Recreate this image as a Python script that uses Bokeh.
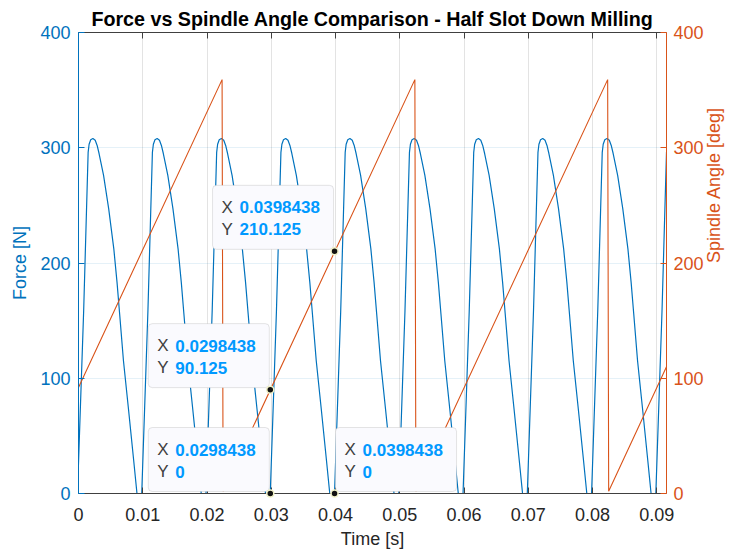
import math
import numpy as np
from bokeh.plotting import figure
from bokeh.models import Range1d, LinearAxis, FixedTicker, CustomJSTickFormatter, BoxAnnotation
from bokeh.core.properties import value
from bokeh.embed import file_html
from bokeh.resources import INLINE

# ---------------- data ----------------
# start time of each tooth pass [s]
tooth_starts = [0.00, 0.01, 0.02, 0.03, 0.04, 0.05, 0.06, 0.07, 0.08, 0.09]
# force profile of one tooth pass: time after the tooth-pass start [s] and force [N]
profile_phase = [-0.00016, 0.0008, 0.0015, 0.00165, 0.0019, 0.00224, 0.0026, 0.0029,
                 0.0032, 0.0039, 0.0047, 0.0055, 0.0060, 0.0064, 0.0070, 0.0078, 0.0086, 0.0091]
profile_force = [0, 158, 296, 303, 307, 308, 306.5, 302,
                 295, 276, 247, 212, 183, 156, 115, 72, 28, 0]

# spindle angle sawtooth vertices
angle_time = [0.0, 0.0223438, 0.0225, 0.0523438, 0.0525, 0.0823438, 0.0825, 0.0915]
angle_deg = [92.0, 359.125, 2.0, 359.125, 2.0, 359.125, 2.0, 110.0]

x_ticks = [0, 0.01, 0.02, 0.03, 0.04, 0.05, 0.06, 0.07, 0.08, 0.09]
y_ticks = [0, 100, 200, 300, 400]

# data tips
tip_x = [0.0398438, 0.0298438, 0.0298438, 0.0398438]
tip_y = [210.125, 90.125, 0.0, 0.0]
tip_x_text = ["0.0398438", "0.0298438", "0.0298438", "0.0398438"]
tip_y_text = ["210.125", "90.125", "0", "0"]
tip_side = ["left", "left", "left", "right"]

TITLE = "Force vs Spindle Angle Comparison - Half Slot Down Milling"
RIGHT_LABEL = "Spindle Angle [deg]"

# ---------------- build the series table ----------------
force_t, force_v = [], []
for t0 in tooth_starts:
    for ph, f in zip(profile_phase, profile_force):
        force_t.append(t0 + ph)
        force_v.append(f)

BLUE = "#0072BD"
ORANGE = "#D95319"
DARK = "#262626"
FONT = "Liberation Sans"

X0, X1 = 0.0, 0.0915
Y0, Y1 = 0.0, 400.0
BL, BR, BT, BB = 78, 70, 32, 61
W, H = 736, 554
FW, FH = W - BL - BR, H - BT - BB

p = figure(width=W, height=H, x_range=Range1d(X0, X1), y_range=Range1d(Y0, Y1),
           output_backend="svg", toolbar_location=None,
           min_border_left=BL, min_border_right=BR, min_border_top=BT, min_border_bottom=BB)
p.extra_y_ranges = {"angle": Range1d(0, 400)}
p.background_fill_color = "white"
p.border_fill_color = "white"
p.outline_line_color = None

# title
p.title.text = TITLE
p.title.text_font = FONT
p.title.text_font_size = "19.7px"
p.title.text_font_style = "bold"
p.title.text_color = "#000000"
p.title.align = "center"
p.title.standoff = 6

# grids
p.xgrid.ticker = FixedTicker(ticks=x_ticks)
p.xgrid.grid_line_color = DARK
p.xgrid.grid_line_alpha = 0.13
p.ygrid.ticker = FixedTicker(ticks=y_ticks)
p.ygrid.grid_line_color = BLUE
p.ygrid.grid_line_alpha = 0.1

def style_axis(ax, color, label_color, tick_color):
    ax.axis_line_color = color
    ax.axis_line_width = 1
    ax.major_tick_line_color = tick_color
    ax.major_tick_in = 6
    ax.major_tick_out = 0
    ax.minor_tick_line_color = None
    ax.major_label_text_font = FONT
    ax.major_label_text_font_size = "18px"
    ax.major_label_text_color = label_color
    ax.axis_label_text_font = FONT
    ax.axis_label_text_font_size = "18px"
    ax.axis_label_text_font_style = "normal"
    ax.axis_label_text_color = label_color

# bottom axis
xa = p.xaxis[0]
xa.ticker = FixedTicker(ticks=x_ticks)
xa.formatter = CustomJSTickFormatter(code="return tick == 0 ? '0' : tick.toFixed(2);")
xa.axis_label = "Time [s]"
style_axis(xa, "#404040", DARK, "#404040")
xa.major_label_standoff = 14
xa.axis_label_standoff = 5

# left axis
ya = p.yaxis[0]
ya.ticker = FixedTicker(ticks=y_ticks)
ya.axis_label = "Force [N]"
style_axis(ya, BLUE, BLUE, BLUE)
ya.major_label_standoff = 8
ya.axis_label_standoff = 7

# right axis
ra = LinearAxis(y_range_name="angle", axis_label=RIGHT_LABEL)
ra.ticker = FixedTicker(ticks=y_ticks)
style_axis(ra, ORANGE, ORANGE, ORANGE)
ra.major_label_standoff = 7
ra.axis_label_standoff = 7
try:
    ra.axis_label_orientation = math.pi / 2
except Exception:
    pass
p.add_layout(ra, "right")

# top border with inward ticks
ta = LinearAxis()
ta.ticker = FixedTicker(ticks=x_ticks)
ta.formatter = CustomJSTickFormatter(code="return '';")
ta.axis_line_color = "#404040"
ta.major_tick_line_color = "#404040"
ta.major_tick_in = 6
ta.major_tick_out = 0
ta.minor_tick_line_color = None
ta.major_label_standoff = 0
p.add_layout(ta, "above")

# series
p.line(force_t, force_v, line_color=BLUE, line_width=1.2)
p.line(angle_time, angle_deg, line_color=ORANGE, line_width=1.1, y_range_name="angle")

# data tips
sx = FW / (X1 - X0)
sy = FH / (Y1 - Y0)
BOX_W, BOX_H = 121, 64
lab_x, lab_y, val_x, val_y, lab_txt, val_txt = [], [], [], [], [], []
for x, y, xt, yt, side in zip(tip_x, tip_y, tip_x_text, tip_y_text, tip_side):
    if side == "left":
        left = x - (BOX_W + 1) / sx
        right = x - 1 / sx
    else:
        left = x + 1 / sx
        right = x + (BOX_W + 1) / sx
    bottom = y + 2 / sy
    top = y + (BOX_H + 2) / sy
    p.add_layout(BoxAnnotation(left=left, right=right, bottom=bottom, top=top,
                               fill_color="#FAFAFE", fill_alpha=1.0,
                               line_color="#A8A8A8", line_width=1, border_radius=4))
    for i, (k, v) in enumerate((("X", xt), ("Y", yt))):
        yy = top - (22 + 22 * i) / sy
        lab_x.append(left + 9 / sx)
        val_x.append(left + 27 / sx)
        lab_y.append(yy)
        val_y.append(yy)
        lab_txt.append(k)
        val_txt.append(v)

r1 = p.text(lab_x, lab_y, text=lab_txt, text_font=value(FONT), text_font_size="17px",
            text_color="#404040", text_baseline="middle", text_align="left")
r2 = p.text(val_x, val_y, text=val_txt, text_font=value(FONT), text_font_size="17px",
            text_font_style="bold", text_color="#0099FF", text_baseline="middle", text_align="left")
r3 = p.scatter(tip_x, tip_y, size=7, fill_color="#111111", line_color="#F2F2C8", line_width=1.5)
for r in (r1, r2, r3):
    r.level = "overlay"

open("out.html", "w").write(file_html(p, INLINE))
